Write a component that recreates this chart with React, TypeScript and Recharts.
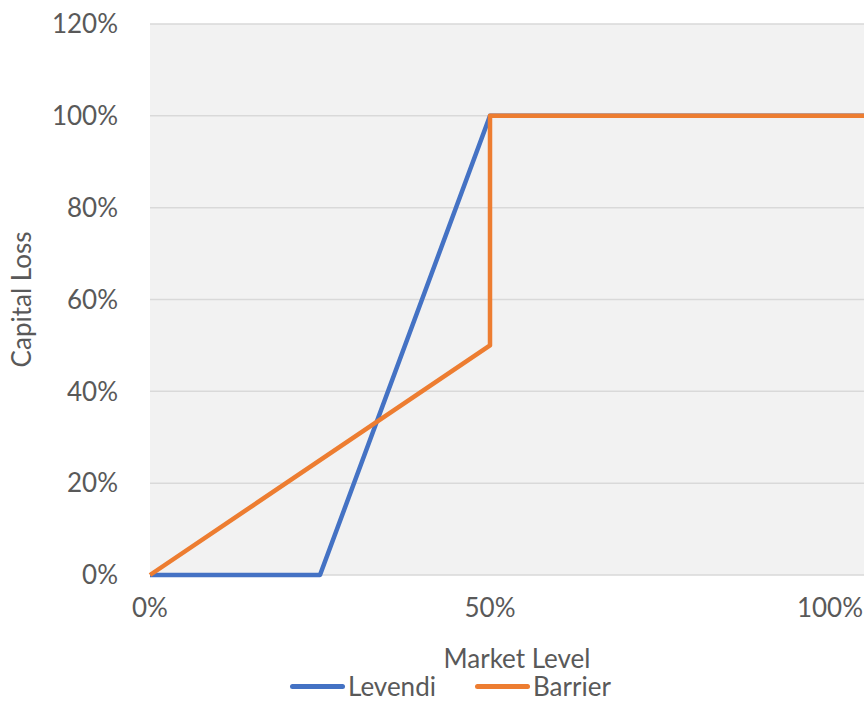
import React from 'react';
import { LineChart, Line, XAxis, YAxis, CartesianGrid, Label } from 'recharts';

const levendiX = [0, 0.25, 0.5, 1.05];
const levendiY = [0, 0, 1, 1];
const barrierX = [0, 0.5, 0.5, 1.05];
const barrierY = [0, 0.5, 1, 1];
const xTicks = [0, 0.5, 1];
const yTicks = [0, 0.2, 0.4, 0.6, 0.8, 1.0, 1.2];

const levendi = levendiX.map((x, i) => ({ x, y: levendiY[i] }));
const barrier = barrierX.map((x, i) => ({ x, y: barrierY[i] }));

const FONT = 'Lato, "Liberation Sans", sans-serif';
const pct = (v: number) => `${Math.round(v * 100)}%`;

const legendItems = [
  { name: 'Levendi', color: '#4472C4', left: 290 },
  { name: 'Barrier', color: '#ED7D31', left: 475 },
];

export default function App() {
  return (
    <div style={{ position: 'absolute', left: 0, top: 0, width: 866, height: 702, background: '#fff', overflow: 'hidden' }}>
      <LineChart width={866} height={702} margin={{ top: 24, right: 2, bottom: 0, left: 0 }}>
        <CartesianGrid vertical={false} stroke="#D9D9D9" strokeWidth={1.5} fill="#F2F2F2" />
        <XAxis
          type="number"
          dataKey="x"
          domain={[0, 1.05]}
          ticks={xTicks}
          tickFormatter={pct}
          axisLine={false}
          tickLine={false}
          tickSize={0}
          tickMargin={24}
          height={127}
          tick={{ fill: '#595959', fontSize: 26, fontFamily: FONT }}
          allowDuplicatedCategory={false}
        >
          <Label value="Market Level" position="insideBottom" offset={34} dx={10} style={{ fill: '#595959', fontSize: 26, fontFamily: FONT }} />
        </XAxis>
        <YAxis
          type="number"
          domain={[0, 1.2]}
          ticks={yTicks}
          tickFormatter={pct}
          axisLine={false}
          tickLine={false}
          tickSize={0}
          tickMargin={32}
          width={150}
          tick={{ fill: '#595959', fontSize: 26, fontFamily: FONT }}
        >
          <Label value="Capital Loss" angle={-90} position="insideLeft" offset={22} style={{ fill: '#595959', fontSize: 26, fontFamily: FONT, textAnchor: 'middle' }} />
        </YAxis>
        <Line data={levendi} dataKey="y" name="Levendi" type="linear" stroke="#4472C4" strokeWidth={4.5} dot={false} isAnimationActive={false} strokeLinejoin="round" />
        <Line data={barrier} dataKey="y" name="Barrier" type="linear" stroke="#ED7D31" strokeWidth={4.5} dot={false} isAnimationActive={false} strokeLinejoin="round" />
      </LineChart>
      {legendItems.map((it) => (
        <div key={it.name} style={{ position: 'absolute', left: it.left, top: 672, height: 28, lineHeight: '28px', display: 'flex', alignItems: 'center', fontFamily: FONT, fontSize: 26, color: '#595959', whiteSpace: 'nowrap' }}>
          <div style={{ width: 55, height: 5, borderRadius: 3, background: it.color, marginRight: 3 }} />
          <span>{it.name}</span>
        </div>
      ))}
    </div>
  );
}
